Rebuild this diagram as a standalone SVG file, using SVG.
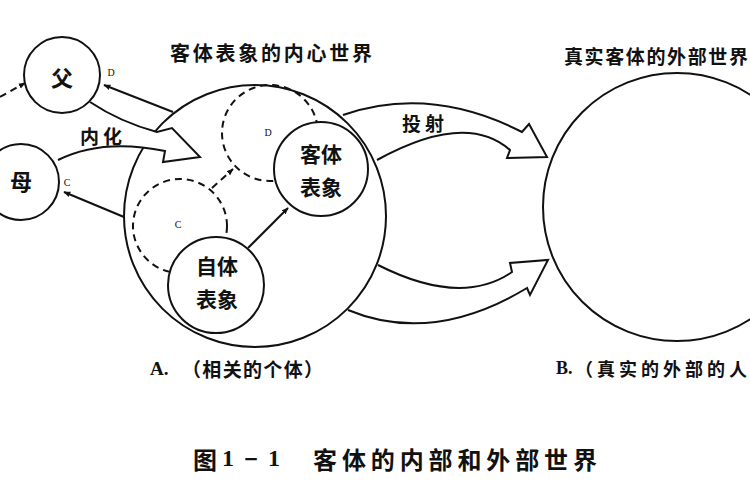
<svg xmlns="http://www.w3.org/2000/svg" width="750" height="500" viewBox="0 0 750 500">
<defs>
<marker id="ah" viewBox="0 0 10 10" refX="9" refY="5" markerWidth="7" markerHeight="7" orient="auto" markerUnits="userSpaceOnUse">
<path d="M0,1 L10,5 L0,9 Z" fill="#111"/>
</marker>
<style>
.c{fill:#fff;stroke:#111;stroke-width:2}
.d{fill:none;stroke:#111;stroke-width:2;stroke-dasharray:7 5}
.l{fill:none;stroke:#111;stroke-width:2}
.t{font-family:"Noto Sans CJK SC","Noto Sans",sans-serif;font-weight:bold;fill:#111;dominant-baseline:central}
.s{font-family:"Liberation Serif",serif;font-size:10px;fill:#111;dominant-baseline:central;text-anchor:middle}
</style>
</defs>
<rect width="750" height="500" fill="#fff"/>

<g id="inner-world">
<circle class="c" cx="255" cy="216" r="131"/>
</g>
<g id="outer-world">
<circle class="c" cx="677" cy="207" r="134"/>
</g>
<g id="dashed-D">
<circle class="d" cx="270" cy="133" r="48"/>
<text class="s" x="268" y="132">D</text>
</g>
<g id="dashed-C">
<circle class="d" cx="180" cy="226" r="47"/>
<text class="s" x="178" y="224">C</text>
</g>

<g id="connectors">
<path class="l" d="M343 115 Q430 85 522 132 L529 124 L547 157 L507 158 L510 150 Q466 111 377 160"/>
<path class="l" d="M378 265 Q461 307 512 272 L510 263 L548 260 L530 295 L527 288 Q432 345 348 310"/>
<path class="c" d="M90 102 Q120 122 157 132 L172 128 L200 157 L163 162 L165 151 Q102 138 58 160"/>
<line class="l" x1="173" y1="112" x2="104" y2="85" marker-end="url(#ah)"/>
<line class="l" x1="124" y1="217" x2="64" y2="192" marker-end="url(#ah)"/>
<line class="d" x1="0" y1="97" x2="25" y2="83" stroke-dasharray="5 4" marker-end="url(#ah)"/>
<line class="d" x1="212" y1="188" x2="233" y2="169" stroke-dasharray="5 4" marker-end="url(#ah)"/>
<line class="l" x1="248" y1="248" x2="288" y2="208" marker-end="url(#ah)"/>
<text class="t" x="80" y="135" font-size="19" textLength="42">内化</text>
<text class="t" x="402" y="122" font-size="19" textLength="42">投射</text>
<text class="s" x="111" y="72">D</text>
<text class="s" x="67" y="182">C</text>
</g>

<g id="father">
<circle class="c" cx="62" cy="75" r="38"/>
<text class="t" x="62" y="76" font-size="22" text-anchor="middle">父</text>
</g>
<g id="mother">
<circle class="c" cx="21" cy="182" r="38"/>
<text class="t" x="21" y="180" font-size="22" text-anchor="middle">母</text>
</g>
<g id="object-rep">
<circle class="c" cx="321" cy="169" r="47"/>
<text class="t" x="321" y="153" font-size="21" text-anchor="middle">客体</text>
<text class="t" x="321" y="186" font-size="21" text-anchor="middle">表象</text>
</g>
<g id="self-rep">
<circle class="c" cx="216" cy="285" r="48"/>
<text class="t" x="217" y="265" font-size="21" text-anchor="middle">自体</text>
<text class="t" x="217" y="298" font-size="21" text-anchor="middle">表象</text>
</g>

<g id="labels">
<text class="t" x="170" y="52" font-size="20" textLength="202">客体表象的内心世界</text>
<text class="t" x="564" y="55" font-size="19" textLength="184">真实客体的外部世界</text>
<text class="t" y="368" font-size="19"><tspan x="150" font-family="Liberation Serif,serif">A.</tspan><tspan x="182" textLength="141">（相关的个体）</tspan></text>
<text class="t" y="368" font-size="18"><tspan x="556" font-family="Liberation Serif,serif">B.</tspan><tspan x="575" textLength="172">（真实的外部的人</tspan></text>
<text class="t" y="458" font-size="24"><tspan x="193">图</tspan><tspan x="222" font-family="Liberation Serif,serif" textLength="58">1－1</tspan><tspan x="313" textLength="284">客体的内部和外部世界</tspan></text>
</g>
</svg>
